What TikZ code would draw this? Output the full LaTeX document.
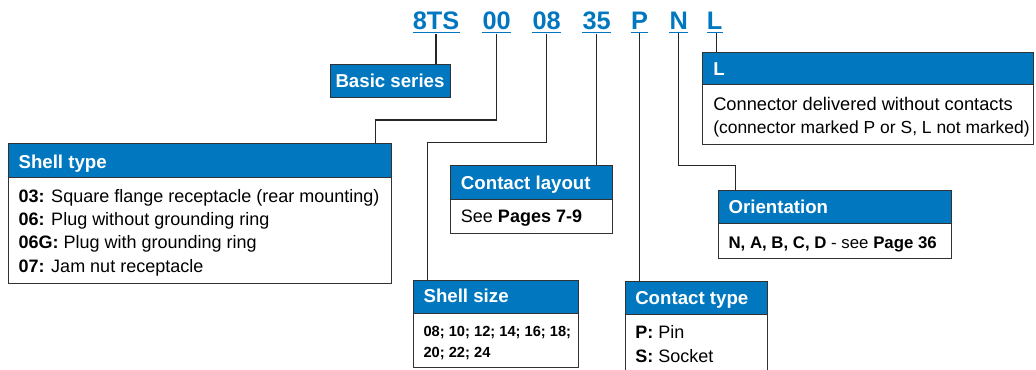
\documentclass[tikz,border=0pt]{standalone}
\usepackage{fontspec}
\setmainfont{Liberation Sans}
\usetikzlibrary{calc}
\definecolor{cblue}{RGB}{0,119,191}
\definecolor{cframe}{RGB}{50,50,50}
\begin{document}
\begin{tikzpicture}[x=0.75pt,y=-0.75pt,
  boxr/.style n args={2}{draw=cframe, line width=1pt, anchor=north west, inner sep=0pt,
     minimum width=#1*0.75pt, minimum height=#2*0.75pt},
  hdr/.style 2 args={boxr={#1}{#2}, fill=cblue},
  bdy/.style 2 args={boxr={#1}{#2}, fill=white},
  txt/.style={anchor=base west, inner sep=0pt, font=\fontsize{13.5}{16}\selectfont},
  btxt/.style={anchor=base west, inner sep=0pt, font=\fontsize{11}{13}\selectfont\bfseries},
  htxt/.style={anchor=base west, inner sep=0pt, text=white, font=\fontsize{14}{16}\selectfont\bfseries},
  code/.style={anchor=base, inner sep=0pt, text=cblue, font=\fontsize{19}{22}\selectfont\bfseries},
  uline/.style={draw=cblue, line width=1.1pt},
  conn/.style={draw=black!85, line width=0.8pt}
]
\useasboundingbox (0,0) rectangle (1036,369);

% code letters
\node[code] (c8ts) at (436,29.5) {8TS};
\node[code] (c00) at (496.7,29.5) {00};
\node[code] (c08) at (546.7,29.5) {08};
\node[code] (c35) at (596.7,29.5) {35};
\node[code] (cP) at (639.5,29.5) {P};
\node[code] (cN) at (678.7,29.5) {N};
\node[code] (cL) at (714.5,29.5) {L};
\foreach \c in {c8ts,c00,c08,c35,cP,cN,cL}{
  \draw[uline] ($(\c.base west)+(0,2.8)$) -- ($(\c.base east)+(0,2.8)$);
}

% Basic series
\node[hdr={120}{33}] (bs) at (330,64) {};
\node[htxt, anchor=base] (bst) at (390,87.3) {Basic series};

% L box
\node[hdr={331}{32}] (lh) at (702,52) {};
\node[bdy={331}{60}] (lb) at (702,84) {};
\node[htxt] (lht) at (713,75) {L};
\node[txt, font=\fontsize{13.7}{16}\selectfont] (lb1) at (713,110) {Connector delivered without contacts};
\node[txt, font=\fontsize{13.1}{16}\selectfont] (lb2) at (713,133.5) {(connector marked P or S, L not marked)};

% Shell type
\node[hdr={383}{34}] (sth) at (8,143) {};
\node[bdy={383}{106}] (stb) at (8,177) {};
\node[htxt] (stt) at (18.3,168.3) {Shell type};
\node[txt] (st1) at (18.3,202.3) {\textbf{03:} Square flange receptacle (rear mounting)};
\node[txt] (st2) at (18.3,225.4) {\textbf{06:} Plug without grounding ring};
\node[txt] (st3) at (18.3,248.8) {\textbf{06G:} Plug with grounding ring};
\node[txt] (st4) at (18.3,272.4) {\textbf{07:} Jam nut receptacle};

% Contact layout
\node[hdr={162}{34}] (clh) at (450,165) {};
\node[bdy={162}{34}] (clb) at (450,199) {};
\node[htxt] (clt) at (460.7,189) {Contact layout};
\node[txt] (cl1) at (460.7,222.3) {See \textbf{Pages 7-9}};

% Shell size
\node[hdr={165}{33}] (ssh) at (413,280) {};
\node[bdy={165}{54}] (ssb) at (413,313) {};
\node[htxt] (sst) at (423.3,302.7) {Shell size};
\node[btxt] (ss1) at (423.3,336) {08; 10; 12; 14; 16; 18;};
\node[btxt] (ss2) at (423.3,357.3) {20; 22; 24};

% Contact type
\node[hdr={142}{33}] (cth) at (625,281) {};
\node[bdy={142}{70}] (ctb) at (625,314) {};
\node[htxt] (ctt) at (635,304) {Contact type};
\node[txt] (ct1) at (635,338.3) {\textbf{P:} Pin};
\node[txt] (ct2) at (635,362) {\textbf{S:} Socket};

% Orientation
\node[hdr={233}{33}] (orh) at (718,190) {};
\node[bdy={233}{35}] (orb) at (718,223) {};
\node[htxt] (ort) at (728.3,213.3) {Orientation};
\node[txt, font=\fontsize{12.6}{15}\selectfont] (or1) at (728.3,248.3) {\textbf{N, A, B, C, D} - see \textbf{Page 36}};

% connectors
\coordinate (k00) at (375.3,120);
\coordinate (k08) at (427.7,142.7);
\coordinate (kN) at (735.3,165.3);
\draw[conn] ($(c8ts.south)+(0,3.5)$) -- (c8ts.south |- bs.north);
\draw[conn] ($(c00.south)+(0,3.5)$) |- (k00) -- (k00 |- sth.north);
\draw[conn] ($(c08.south)+(0,3.5)$) |- (k08) -- (k08 |- ssh.north);
\draw[conn] ($(c35.south)+(0,3.5)$) -- (c35.south |- clh.north);
\draw[conn] ($(cP.south)+(0,3.5)$) -- (cP.south |- cth.north);
\draw[conn] ($(cN.south)+(0,3.5)$) |- (kN) -- (kN |- orh.north);
\draw[conn] ($(cL.south)+(2.2,3.5)$) -- ($(cL.south |- lh.north)+(2.2,0)$);
\end{tikzpicture}
\end{document}
